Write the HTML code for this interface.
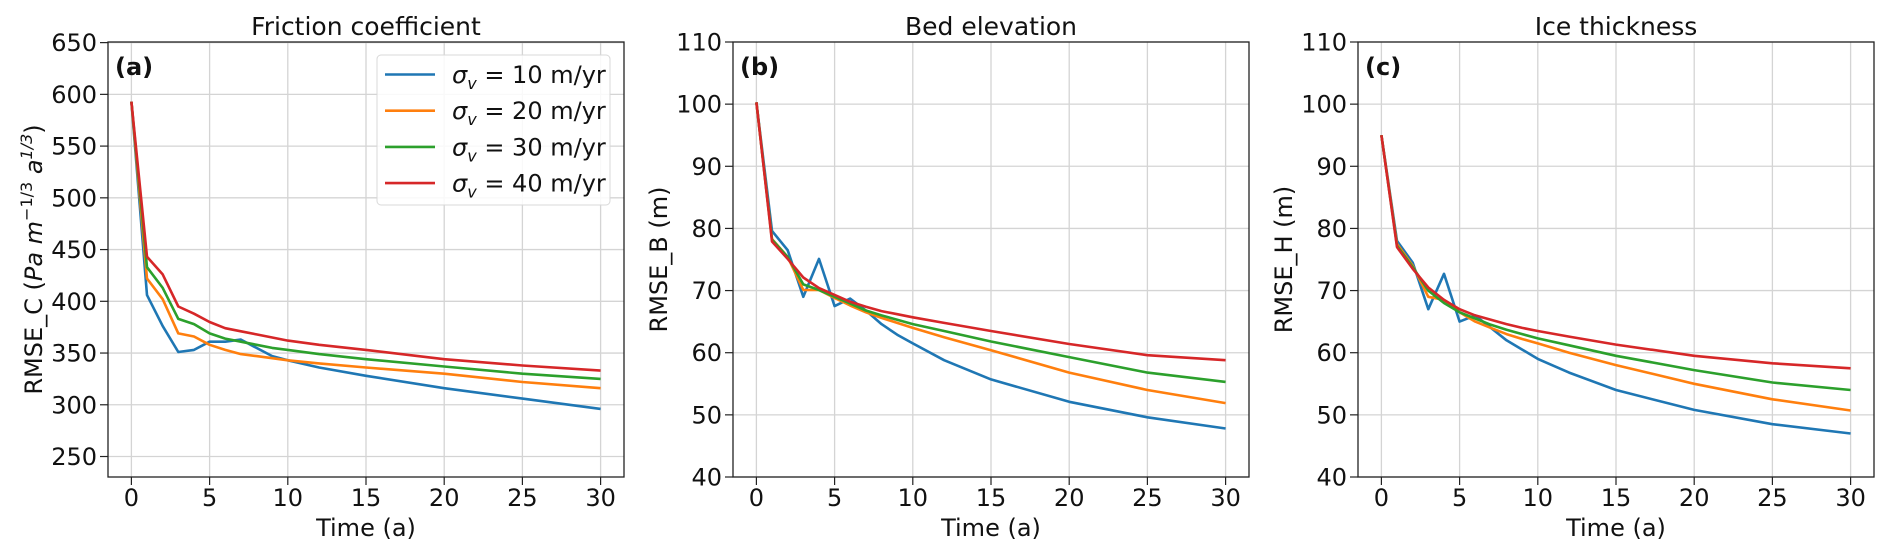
<!DOCTYPE html>
<html><head><meta charset="utf-8">
<style>
html,body{margin:0;padding:0;background:#fff;}
svg{display:block;font-family:"DejaVu Sans","Liberation Sans",sans-serif;}
</style></head>
<body>
<svg id="fig" width="1892" height="555" viewBox="0 0 1892 555" xmlns="http://www.w3.org/2000/svg"></svg>
<script>
const times = [0,1,2,3,4,5,6,7,8,9,10,12,15,20,25,30];
const seriesLabels = ["10","20","30","40"];
const seriesColors = ["#1f77b4","#ff7f0e","#2ca02c","#d62728"];
const xTicks = [0,5,10,15,20,25,30];

const aBlue   = [593,406,376,351,353,361,361,363,355,347,343,336,328,316,306,296];
const aOrange = [593,422,402,369,366,358,353,349,347,345,343,340,336,330,322,316];
const aGreen  = [593,433,413,383,378,369,364,361,358,355,353,349,344,337,330,325];
const aRed    = [593,443,426,395,388,380,374,371,368,365,362,358,353,344,338,333];
const aTicks  = [250,300,350,400,450,500,550,600,650];

const bBlue   = [100.3,79.6,76.5,69,75.1,67.5,68.7,66.8,64.6,62.9,61.5,58.8,55.7,52.1,49.6,47.8];
const bOrange = [100.3,78.3,75.4,70.1,70.1,68.8,67.6,66.5,65.6,64.8,64,62.5,60.4,56.8,54,51.9];
const bGreen  = [100.3,78.2,75.4,71,70.1,69,67.9,66.8,66,65.3,64.6,63.5,61.8,59.3,56.8,55.3];
const bRed    = [100.3,77.9,75.1,72.1,70.4,69.3,68.2,67.4,66.7,66.2,65.7,64.8,63.5,61.4,59.6,58.8];
const bTicks  = [40,50,60,70,80,90,100,110];

const cBlue   = [95,78,74.5,67,72.7,65,66,64,62,60.5,59,56.8,54,50.8,48.5,47];
const cOrange = [95,77.5,74,69,68.5,66.5,65,64,63,62.2,61.5,60,58,55,52.5,50.7];
const cGreen  = [95,77.2,73.8,70,68,66.5,65.5,64.5,63.7,63,62.3,61.2,59.5,57.2,55.2,54];
const cRed    = [95,77,73.5,70.5,68.5,67,66,65.3,64.6,64,63.5,62.6,61.3,59.5,58.3,57.5];
const cTicks  = [40,50,60,70,80,90,100,110];

const NS = "http://www.w3.org/2000/svg";
const svgEl = document.getElementById('fig');
function mk(tag, attrs, parent, text){
  const e = document.createElementNS(NS, tag);
  for (const k in attrs) e.setAttribute(k, attrs[k]);
  if (text !== undefined) e.textContent = text;
  (parent||svgEl).appendChild(e);
  return e;
}

const panels = [
  {id:'a', left:108, title:'Friction coefficient', series:[aBlue,aOrange,aGreen,aRed], ticks:aTicks, ymin:230.2, ymax:650.6, ylabel:'rmse-c', legend:true},
  {id:'b', left:733, title:'Bed elevation', series:[bBlue,bOrange,bGreen,bRed], ticks:bTicks, ymin:40, ymax:110, ylabel:'RMSE_B (m)'},
  {id:'c', left:1358, title:'Ice thickness', series:[cBlue,cOrange,cGreen,cRed], ticks:cTicks, ymin:40, ymax:110, ylabel:'RMSE_H (m)'}
];
const axTop = 42, axBottom = 477, axWidth = 516;

panels.forEach(p => {
  const g = mk('g', {}, svgEl);
  
  
  const L = p.left, R = p.left + axWidth;
  const xs = t => L + 23.4 + (t/30) * (axWidth - 46.8);
  const ys = v => axBottom - (v - p.ymin) / (p.ymax - p.ymin) * (axBottom - axTop);

  p.ticks.forEach(v => {
    const y = ys(v);
    const ln = mk('line', {x1:L, x2:R, y1:y, y2:y, stroke:'#d4d4d4', 'stroke-width':1.3}, g);
    
    
    const tk = mk('line', {x1:L-8, x2:L, y1:y, y2:y, stroke:'#222', 'stroke-width':1.2}, g);
    
    
    const tl = mk('text', {x:L-11, y:y+8.5, 'text-anchor':'end', 'font-size':24, fill:'#111'}, g, String(v));
    
    
  });
  xTicks.forEach(t => {
    const x = xs(t);
    const ln = mk('line', {x1:x, x2:x, y1:axTop, y2:axBottom, stroke:'#d4d4d4', 'stroke-width':1.3}, g);
    
    
    const tk = mk('line', {x1:x, x2:x, y1:axBottom, y2:axBottom+8, stroke:'#222', 'stroke-width':1.2}, g);
    
    
    const tl = mk('text', {x:x, y:506, 'text-anchor':'middle', 'font-size':24, fill:'#111'}, g, String(t));
    
    
  });

  p.series.forEach((arr, i) => {
    const d = arr.map((v, k) => (k ? 'L' : 'M') + xs(times[k]).toFixed(1) + ',' + ys(v).toFixed(1)).join(' ');
    const pa = mk('path', {d:d, fill:'none', stroke:seriesColors[i], 'stroke-width':2.6, 'stroke-linejoin':'round'}, g);
    
    
  });

  const fr = mk('rect', {x:L, y:axTop, width:axWidth, height:axBottom-axTop, fill:'none', stroke:'#222', 'stroke-width':1.3}, g);
  
  

  const ti = mk('text', {x:L+axWidth/2, y:35, 'text-anchor':'middle', 'font-size':25, fill:'#111'}, g, p.title);
  
  

  const pl = mk('text', {x:L+7, y:75, 'font-size':24, 'font-weight':'bold', fill:'#111'}, g, '(' + p.id + ')');
  
  

  const xl = mk('text', {x:L+axWidth/2, y:536, 'text-anchor':'middle', 'font-size':24, fill:'#111'}, g, 'Time (a)');
  
  

  const cy = (axTop+axBottom)/2, cx = L - 66;
  const yl = mk('text', {x:0, y:0, 'text-anchor':'middle', 'font-size':24, fill:'#111', transform:'translate(' + cx + ',' + cy + ') rotate(-90)'}, g);
  
  
  if (p.ylabel === 'rmse-c') {
    yl.innerHTML = 'RMSE_C (<tspan font-style="italic">Pa m</tspan><tspan font-size="16" dy="-10">−1/3</tspan><tspan dy="10" font-style="italic"> a</tspan><tspan font-size="16" dy="-10" font-style="italic">1/3</tspan><tspan dy="10">)</tspan>';
  } else {
    yl.textContent = p.ylabel;
  }

  if (p.legend) {
    const lg = mk('g', {}, g);
    
    
    mk('rect', {x:377, y:55, width:233, height:150, rx:4, fill:'#fff', 'fill-opacity':0.85, stroke:'#d8d8d8', 'stroke-width':1}, lg);
    seriesLabels.forEach((s, i) => {
      const y = 74.5 + i*36.2;
      const e = mk('g', {}, lg);
      
      
      mk('line', {x1:385, x2:435, y1:y, y2:y, stroke:seriesColors[i], 'stroke-width':2.6}, e);
      const tx = mk('text', {x:452, y:y+8.5, 'font-size':24, fill:'#111'}, e);
      tx.innerHTML = '<tspan font-style="italic">σ</tspan><tspan font-size="16" dy="6" font-style="italic">v</tspan><tspan dy="-6"> = ' + s + ' m/yr</tspan>';
    });
  }
});
</script>
</body></html>
